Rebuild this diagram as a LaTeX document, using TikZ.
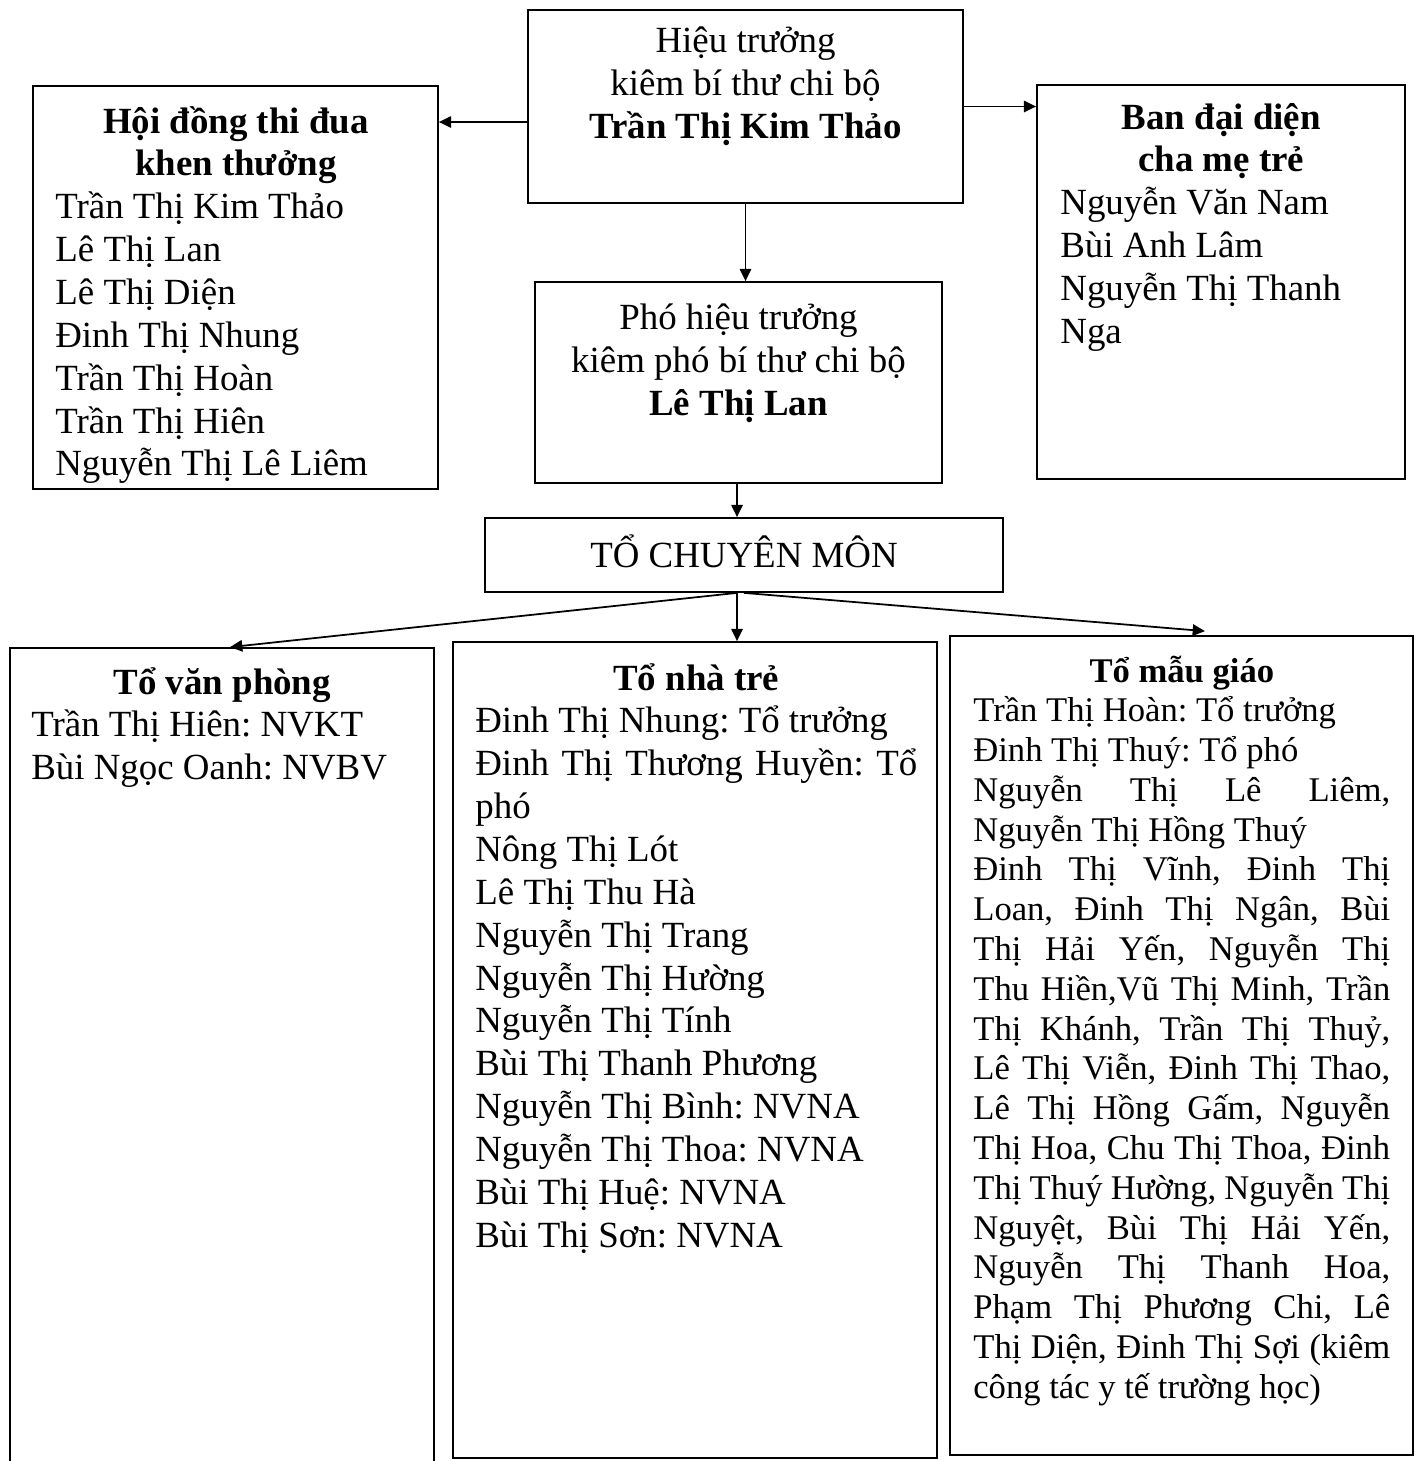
\documentclass[tikz,border=0pt]{standalone}
\usepackage{fontspec}
\setmainfont{Liberation Serif}
\usetikzlibrary{arrows.meta,fit}
\frenchspacing
\newcommand{\jline}[1]{\makebox[\linewidth][s]{\spaceskip=0pt\xspaceskip=0pt #1}}
\newcommand{\ctitle}[1]{\makebox[\linewidth]{\textbf{#1}}}

\begin{document}
\begin{tikzpicture}[x=0.02cm, y=-0.02cm,
    box/.style={draw, line width=1pt, inner sep=0pt},
    txt/.style={inner sep=0pt, font=\fontsize{21}{24.4}\selectfont},
    list/.style={txt, align=flush left, anchor=base west},
    arr/.style={-{Triangle[length=7pt,width=6.5pt]}, line width=1pt}]
    \useasboundingbox (0,0) rectangle (1422,1461);
    % boxes
    \node[box, fit={(528,10) (963,203)}] (ht) {};
    \node[box, fit={(33,86) (438,489)}] (hdtd) {};
    \node[box, fit={(1037,85) (1405,479)}] (bandd) {};
    \node[box, fit={(535,282) (942,483)}] (pht) {};
    \node[box, fit={(485,518) (1003,592)}] (tcm) {};
    \node[box, fit={(10,648) (434,1480)}] (vp) {};
    \node[box, fit={(453,642) (937,1458)}] (nt) {};
    \node[box, fit={(950,636) (1413,1455)}] (mg) {};
    % texts
    \node[txt, align=center, anchor=base] (ht-txt) at (745.5,138)
        {Hiệu trưởng\\kiêm bí thư chi bộ\\\textbf{Trần Thị Kim Thảo}};
    \node[list, text width=7.22cm] (hdtd-txt) at (55,133)
        {\ctitle{Hội đồng thi đua}\\\ctitle{khen thưởng}\\
         Trần Thị Kim Thảo\\Lê Thị Lan\\Lê Thị Diện\\Đinh Thị Nhung\\
         Trần Thị Hoàn\\Trần Thị Hiên\\Nguyễn Thị Lê Liêm};
    \node[list, text width=6.44cm] (bandd-txt) at (1060,129)
        {\ctitle{Ban đại diện}\\\ctitle{cha mẹ trẻ}\\
         Nguyễn Văn Nam\\Bùi Anh Lâm\\Nguyễn Thị Thanh\\Nga};
    \node[txt, align=center, anchor=base] (pht-txt) at (738.5,415)
        {Phó hiệu trưởng\\kiêm phó bí thư chi bộ\\\textbf{Lê Thị Lan}};
    \node[txt] (tcm-txt) at ([yshift=0.07cm]tcm.center) {TỔ CHUYÊN MÔN};
    \node[list, text width=7.64cm] (vp-txt) at (31,694)
        {\ctitle{Tổ văn phòng}\\Trần Thị Hiên: NVKT\\Bùi Ngọc Oanh: NVBV};
    \node[list, text width=8.84cm] (nt-txt) at (475,690)
        {\ctitle{Tổ nhà trẻ}\\Đinh Thị Nhung: Tổ trưởng\\
         \jline{Đinh Thị Thương Huyền: Tổ}\\phó\\Nông Thị Lót\\Lê Thị Thu Hà\\
         Nguyễn Thị Trang\\Nguyễn Thị Hường\\Nguyễn Thị Tính\\
         Bùi Thị Thanh Phương\\Nguyễn Thị Bình: NVNA\\Nguyễn Thị Thoa: NVNA\\
         Bùi Thị Huệ: NVNA\\Bùi Thị Sơn: NVNA};
    \node[list, text width=8.34cm, font=\fontsize{19.7}{22.65}\selectfont] (mg-txt) at (973,682)
        {\ctitle{Tổ mẫu giáo}\\Trần Thị Hoàn: Tổ trưởng\\Đinh Thị Thuý: Tổ phó\\
         \jline{Nguyễn Thị Lê Liêm,}\\Nguyễn Thị Hồng Thuý\\
         \jline{Đinh Thị Vĩnh, Đinh Thị}\\\jline{Loan, Đinh Thị Ngân, Bùi}\\
         \jline{Thị Hải Yến, Nguyễn Thị}\\\jline{Thu Hiền,Vũ Thị Minh, Trần}\\
         \jline{Thị Khánh, Trần Thị Thuỷ,}\\\jline{Lê Thị Viễn, Đinh Thị Thao,}\\
         \jline{Lê Thị Hồng Gấm, Nguyễn}\\\jline{Thị Hoa, Chu Thị Thoa, Đinh}\\
         \jline{Thị Thuý Hường, Nguyễn Thị}\\\jline{Nguyệt, Bùi Thị Hải Yến,}\\
         \jline{Nguyễn Thị Thanh Hoa,}\\\jline{Phạm Thị Phương Chi, Lê}\\
         \jline{Thị Diện, Đinh Thị Sợi (kiêm}\\công tác y tế trường học)};
    % arrows
    \draw[arr] ([yshift=-0.31cm]ht.west) -- ([yshift=-0.31cm]ht.west -| hdtd.east);
    \draw[arr] (ht.east) -- (ht.east -| bandd.west);
    \draw[arr] (ht.south) -- (ht.south |- pht.north);
    \draw[arr] ([xshift=-0.03cm]pht.south) -- ([xshift=-0.03cm]pht.south |- tcm.north);
    \draw[arr] ([xshift=-0.14cm]tcm.south) -- ([xshift=0.16cm]vp.north);
    \draw[arr] ([xshift=-0.14cm]tcm.south) -- ([xshift=-0.14cm]tcm.south |- nt.north);
    \draw[arr] (tcm.south) -- ([xshift=0.47cm, yshift=0.08cm]mg.north);
\end{tikzpicture}
\end{document}
